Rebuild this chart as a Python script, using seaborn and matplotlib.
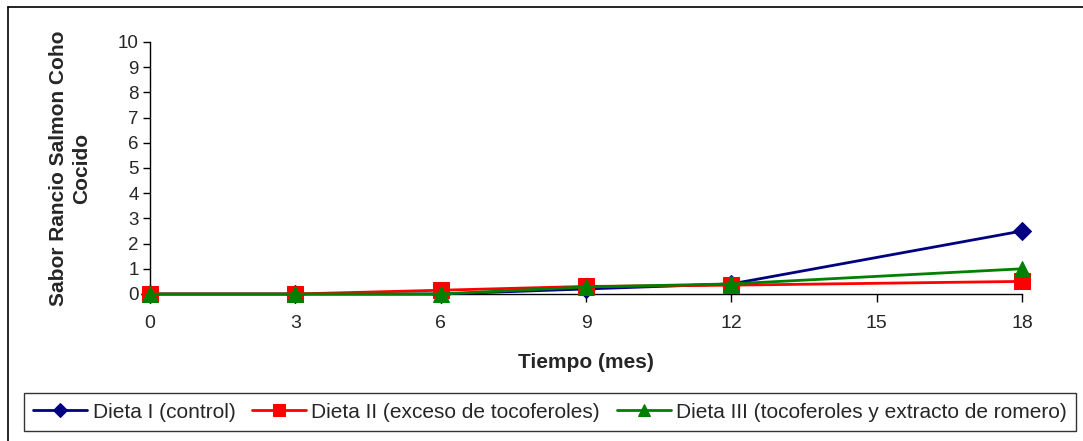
import numpy as np
import pandas as pd
import matplotlib
matplotlib.use("Agg")
import matplotlib.pyplot as plt
from matplotlib.lines import Line2D
import seaborn as sns

# Meses de almacenamiento y puntaje de sabor rancio por dieta
meses = [0, 3, 6, 9, 12, 18]
dieta_1 = [0.0, 0.0, 0.0, 0.2, 0.4, 2.5]
dieta_2 = [0.0, 0.0, 0.15, 0.3, 0.35, 0.5]
dieta_3 = [0.0, 0.0, 0.0, 0.28, 0.4, 1.0]

series = ["Dieta I (control)",
          "Dieta II (exceso de tocoferoles)",
          "Dieta III (tocoferoles y extracto de romero)"]
colores = ["#000080", "#FF0000", "#008000"]
marcadores = ["D", "s", "^"]
tamanos = [9.5, 11, 11.5]

x_ticks = [0, 3, 6, 9, 12, 15, 18]
y_ticks = list(range(0, 11))

df = pd.DataFrame({
    "mes": meses * 3,
    "valor": dieta_1 + dieta_2 + dieta_3,
    "dieta": [series[0]] * len(meses) + [series[1]] * len(meses) + [series[2]] * len(meses),
})

sns.set_theme(style="white")
plt.rcParams["font.family"] = ["Liberation Sans", "DejaVu Sans"]

W, H = 1083, 441
fig = plt.figure(figsize=(W / 100, H / 100), dpi=100)
ax = fig.add_axes([150 / W, 1 - 294 / H, (1022 - 150) / W, (294 - 42) / H])

for nombre, color, mk, ms in zip(series, colores, marcadores, tamanos):
    sub = df[df["dieta"] == nombre]
    sns.lineplot(data=sub, x="mes", y="valor", ax=ax, color=color, linewidth=2.0,
                 marker=mk, markersize=ms, markeredgecolor=color, label=nombre,
                 clip_on=False, zorder=3)

ax.set_xlim(0, 18)
ax.set_ylim(0, 10)
ax.set_xticks(x_ticks)
ax.set_yticks(y_ticks)
ax.tick_params(axis="y", direction="out", length=5, width=1, color="black",
               labelsize=13.5, pad=3, left=True)
ax.tick_params(axis="x", direction="out", length=6, width=1, color="black",
               labelsize=14, pad=9, bottom=True)
for s in ["top", "right"]:
    ax.spines[s].set_visible(False)
for s in ["left", "bottom"]:
    ax.spines[s].set_color("black")
    ax.spines[s].set_linewidth(1)

ax.set_xlabel("Tiempo (mes)", fontsize=15, fontweight="bold", labelpad=15)
ax.set_ylabel("Sabor Rancio Salmon Coho\nCocido", fontsize=15, fontweight="bold",
              labelpad=19, linespacing=1.3)

handles, labels = ax.get_legend_handles_labels()
if ax.legend_:
    ax.legend_.remove()
leg = fig.legend(handles, labels, loc="center", ncol=3,
                 bbox_to_anchor=(550 / W, 1 - 412 / H),
                 frameon=True, fancybox=False, edgecolor="black", fontsize=15,
                 handlelength=2.6, handletextpad=0.25, columnspacing=0.8,
                 markerscale=0.8, borderpad=0.45, borderaxespad=0)
leg.get_frame().set_linewidth(1)

# Borde exterior del gráfico (lados izquierdo y superior)
fig.add_artist(Line2D([8 / W, 8 / W], [0, 1 - 7 / H], transform=fig.transFigure,
                      color="black", linewidth=1.2))
fig.add_artist(Line2D([8 / W, 1], [1 - 7 / H, 1 - 7 / H], transform=fig.transFigure,
                      color="black", linewidth=1.2))

fig.savefig("out.png", dpi=100)
